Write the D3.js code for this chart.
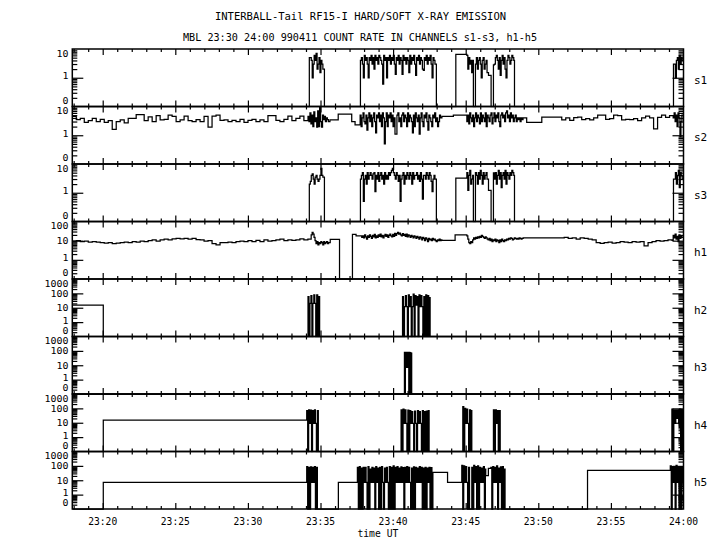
<!DOCTYPE html>
<html><head><meta charset="utf-8">
<script src="https://cdn.jsdelivr.net/npm/d3@7"></script>
<style>
body{margin:0;background:#fff}
svg{display:block;background:#fff}
text{font-family:"DejaVu Sans Mono",monospace;fill:#000;font-size:11px}
</style></head><body>
<svg id="c" width="720" height="550"></svg>
<script>
// ---------- data (time in minutes after 23:00 UT) ----------
const titleLine1 = "INTERBALL-Tail RF15-I HARD/SOFT X-RAY EMISSION";
const titleLine2 = "MBL 23:30 24:00 990411  COUNT RATE IN CHANNELS s1-s3, h1-h5";
const channels = ["s1","s2","s3","h1","h2","h3","h4","h5"];
const channelMax = [10,10,10,100,1000,1000,1000,1000];
const xDomain = [17.906, 60];
const xMajorTicks = [20,25,30,35,40,45,50,55,60];
const xTickLabels = ["23:20","23:25","23:30","23:35","23:40","23:45","23:50","23:55","24:00"];
const xLabel = "time UT";

// runs: [start minute, sample step (s), values]
const s1Runs = [
 [17.906,0,[0]],
 [34.23,4,[5,5,4,1,3,6,4,7,2,3,5,1.5,4,3,2]],
 [35.27,0,[0]],
 [37.75,4,[4,5,3,1,6,4,5,3,1,5, 4,6,3,5,2,6,4,5,3,6, 5,4,3,0.6,6,4,5,1,5,4, 6,3,5,4,6,3,1.3,5,4,6, 3,5,4,1.3,6,4,5,3,5,4, 1.5,6,3,5,4,6,3,1.2,5,4, 6,3,5,4,2,1.8,5,4,6,3, 5,4,6,3,1,5,4,3]],
 [42.98,0,[0]],
 [44.32,0,[6.5]],
 [45.08,4,[6,2,5,3,4,1.5,4]],
 [45.53,0,[0]],
 [45.67,4,[3,5,2,4,5,3,1,4,5,2,3,4,1.5]],
 [46.57,0,[1.2]],
 [46.75,0,[0]],
 [46.91,4,[2.8,3,5,6,4,2,5,1.2,4,6,3,5,2,1,4,6,5,3,4,6,5,4]],
 [48.36,0,[0]],
 [59.31,4,[3,3,1,4,5,2,6,3,5,4]]
];
const s2Runs = [
 [17.906,16.5,[4.5,3.5,3.9,2.8,3.2,3.9,3.0,3.6,2.8,3.2, 1.6,3.0,3.4,2.7,3.9,3.9,5.2,5.2,3.2,4.4, 3.0,4.8,3.4,3.6,5.0,4.5,3.0,3.4,4.6,3.2, 3.0,3.5,3.0,4.5,1.9,4.6,5.0,3.3,3.4,3.0, 3.3,3.0,3.6,2.8,3.3,3.6,3.0,3.4,3.0,4.8, 4.8,3.3,3.0,3.6,4.6,3.2,3.9,4.6,3.2]],
 [34.14,4,[4.5,3,6,2.5,5,2,6.5,3,4,1.9,7,2,10,3,1.9,5,3.5,4.5,3,4,3.5,3]],
 [35.65,0,[3.4]],
 [36.22,0,[5.4]],
 [37.15,0,[3.0]],
 [37.38,0,[2.3]],
 [37.73,4,[5,2,4,6,3,2.5,5,1.5,4,6, 3,5,2,4,6,3,1.2,5,4,6, 3,5,2,6,4,0.5,3,6,2,5, 4,6,3,5,2,4,1.1,1.1,5,6, 3,4,2,5,6,3,5,4,2,6, 3,5,4,3,1.2,5,2,6,4,3, 5,1.1,4,6,3,2,5,4,6,3, 1.5,5,4,3,2,5,4,6,3,4, 2,3,5,4]],
 [43.36,0,[4.5]],
 [44.15,0,[5.0]],
 [45.08,4,[3,5,2.5,6,4,3,5,2,4,6, 3,5,4,2.5,6,3,5,4,3,6, 2,5,4,3,5,6,2.5,4,6,3, 5,4,6,3,2,5,6,4,5,3, 6,7,4,5,3,6,4,5,3,4, 5,3,4,3.5,4,3,4,3.5,4]],
 [49.2,0,[2.8]],
 [50.24,16.5,[4.3,4.3,4.3,4.3,4.3,3.4,4.0,3.3,4.1,4.3, 3.5,3.8,3.4,4.0,5.0,5.0,3.6,3.8,5.0,4.8, 3.4,3.6,3.5,3.8,3.2,4.0,4.6,4.0,1.65,4.2, 5.0,4.2,4.8]],
 [59.29,4,[4,6,3,5,2,6,4,0.9,3,5]]
];
const s3Runs = [
 [17.906,0,[0]],
 [34.23,4,[2,2.5,4,4.5,3,2,3.5,4,3,2.5,3,4,7,4,3.5]],
 [35.27,0,[0]],
 [37.75,4,[3,4,5,0.5,3,4,2,5,3,4, 5,4,3,4.5,5,1.1,4,3,5,2.5, 4,5,3,4,2,5,3,4,3,5, 4,5,6,7,5,4,3,5,4,2.5, 4,0.5,3,4,5,2,4,3,5,4, 3,5,4,2,5,3,4,4,5,3, 4,2.5,5,3,0.6,4,4,3,5,4, 3,5,4,2.5,1.1,3,4,3]],
 [42.98,0,[0]],
 [44.32,0,[3.2]],
 [45.08,4,[5,1.2,4,6,2,3,4]],
 [45.53,0,[0]],
 [45.67,4,[5,4,2,5,3,6,4,2,5,3,4,5,3]],
 [46.57,0,[1.2]],
 [46.75,0,[0]],
 [46.91,4,[4.9,3,5,2,4,6,3,5,1.5,4,5,3,6,2,5,4,3,5,4,6,5,4]],
 [48.36,0,[0]],
 [59.31,4,[3,3,5,2,4,6,1.5,5,4,3]]
];
const h1Runs = [
 [17.906,16.5,[9.5,10,9,9.5,8.5,9,8.5,8,7.5,8, 7,7.5,8,8.5,8,9,8.5,9.5,9,10, 11,9.5,11,12,11,12.5,13,12.5,13,12, 13,11.5,11,9.5,10,7,6,8,8,8.5, 8,9,9.5,9,10,9,10.5,9,11,9.5, 10,11,12,10,11,10.5,11,12.5,11,12]],
 [34.29,4,[12,20,27,22,15,10,7,9,6,8,7,9,8,6,9,7,8,9,7,8]],
 [35.67,0,[11.7]],
 [36.31,0,[0]],
 [37.2,0,[21]],
 [37.45,0,[18]],
 [37.84,4,[15,18,14,20,16,12,18,15,20,17, 13,19,16,21,14,18,15,20,17,22, 16,19,14,18,21,17,20,15,19,22, 18,16,21,17,24,19,23,27,22,25, 20,18,23,19,21,17,22,16,20,18, 15,19,17,14,18,16,13,17,15,12, 16,14,11,15,13,10,14,12,9,13, 11,12,10,13,11,12,10,9,11,10, 12,10,11]],
 [43.36,0,[10.5]],
 [44.27,0,[20]],
 [45.08,4,[18,12,8,7,9,8,11,14,12,15, 13,16,14,17,15,19,17,15,13,16, 14,12,11,13,10,12,9,11,10,12, 9,11,10,8,11,9,12,10,9,11, 10,12,11,13,12,14,13,11,12,14, 13,12,13,12,14,13,12,13]],
 [48.96,0,[14]],
 [51.51,16.5,[14,15,13,14,12,14,13,12,11,8, 7.2,8,8.5,7.5,8,9,8.5,8,9,8.5, 9,5.3,8,9,10,9.5,10,11,10.5]],
 [59.29,4,[19,14,22,12,17,9,20,13,18,15]]
];
const h2Runs = [
 [17.906,0,[15]],
 [20.04,0,[0]],
 [34.14,4,[60,0,20,70,0,20,80,20,0,80,0,60,0]],
 [35.02,0,[0]],
 [40.65,4,[60,0,12,70,12,0,80,12,60,0,12,90,0,70,15,60,0,80,12,70,12,0,60,0,80,0,70,0,50]],
 [42.55,0,[0]]
];
const h3Runs = [
 [17.906,0,[0]],
 [40.78,2,[80,0,80,7,80,7,80,7,80,0,80,0,75,0,70,0]],
 [41.29,0,[0]]
];
const h4Runs = [
 [17.906,0,[0]],
 [20.04,0,[15.5]],
 [34.05,4,[70,0,80,9,75,0,70,9,80,9,0,70,0]],
 [34.85,0,[0]],
 [40.55,4,[80,0,90,9,80,9,0,75,0,70,9,60,9,0,65,9,0,70,9,60,9,0,70,0,60,0,65,0,70,0]],
 [42.48,0,[0]],
 [44.8,4,[130,0,100,9,90,9,0,80,0,70,0]],
 [45.42,0,[0]],
 [46.91,4,[80,0,80,9,70,0,70,0]],
 [47.42,0,[0]],
 [59.2,4,[90,0,80,9,80,20,80,9,90,0,80,0,90,0]]
];
const h5Runs = [
 [17.906,0,[0]],
 [20.04,0,[7.2]],
 [34.05,4,[90,0,80,0,85,7,80,7,90,0,80,0]],
 [34.85,0,[0]],
 [36.23,0,[7.2]],
 [37.54,4,[80,0,90,0,70,0,80, 7,80,7, 0,90,0, 60,7,80,7, 70,0, 90,7,70, 0,80,0,90, 7, 0,70, 7,80,7, 0,90,0,80,0,100,0, 80,7,90,7,70,7,85,7,75, 0,80, 7,90,7,80,7, 0,70,0,85,0, 80,7,70,7,90,7,80, 0,70,0,80,0, 70,7,80, 0,75,0]],
 [42.74,0,[36]],
 [43.75,0,[7.2]],
 [44.73,4,[110,0,100,7,90,7,0,80,0]],
 [45.31,0,[0]],
 [45.42,4,[80,0,110,7,90,0,100,0,80,7,70,7,90,0,60]],
 [46.38,0,[21]],
 [46.56,0,[68]],
 [46.73,4,[80,0,90,7,80,7,100,0,70,7,85,0,90,0,60]],
 [47.71,0,[0]],
 [53.39,0,[49]],
 [59.09,4,[100,0,90,7,80,0,110,7,90,0,80,0,90,7,80,0]]
];
const channelRuns = [s1Runs,s2Runs,s3Runs,h1Runs,h2Runs,h3Runs,h4Runs,h5Runs];

// ---------- drawing ----------
const svg = d3.select("#c");
const plotLeft = 72.3, plotRight = 683.5, plotTop = 49, panelH = 57.5;
const x = d3.scaleLinear().domain(xDomain).range([plotLeft, plotRight]);

function buildPoints(runs){
  const pts=[];
  runs.forEach((r,k)=>{
    const end = k+1<runs.length ? runs[k+1][0] : xDomain[1];
    r[2].forEach((v,i)=>{ const t=r[0]+i*r[1]/60; if(t<end) pts.push([t,v]); });
  });
  pts.push([xDomain[1], pts[pts.length-1][1]]);
  return pts;
}
function fitText(sel, n, adv){ sel.attr("textLength", n*adv).attr("lengthAdjust","spacingAndGlyphs"); }

const minuteTicks = d3.range(18,60).filter(m=>m%5!==0);
const xMajorInner = xMajorTicks.filter(m=>m<60);

channels.forEach((name,i)=>{
  const t = plotTop + i*panelH, b = t + panelH;
  const maxV = channelMax[i];
  const y = d3.scaleLog().domain([0.1,maxV]).range([b,t]).clamp(true);
  const g = svg.append("g");

  g.append("clipPath").attr("id","cp"+i).append("rect")
    .attr("x",plotLeft).attr("y",t-1).attr("width",plotRight-plotLeft).attr("height",panelH+2);

  const line = d3.line().x(d=>x(d[0])).y(d=>y(Math.max(d[1],0.1))).curve(d3.curveStepAfter);
  g.append("path").datum(buildPoints(channelRuns[i]))
    .attr("d",line).attr("fill","none").attr("stroke","#000").attr("stroke-width",1.25)
    .attr("clip-path","url(#cp"+i+")");

  // frame
  g.append("rect").attr("x",plotLeft).attr("y",t).attr("width",plotRight-plotLeft).attr("height",panelH)
    .attr("fill","none").attr("stroke","#000").attr("stroke-width",1.5);

  const clean = s=>{ s.select(".domain").remove(); s.selectAll("line").attr("stroke-width",1.2); s.selectAll("text").remove(); };
  // x ticks top & bottom (inward)
  g.append("g").attr("transform",`translate(0,${t})`).call(d3.axisTop(x).tickValues(minuteTicks).tickSize(-3).tickSizeOuter(0)).call(clean);
  g.append("g").attr("transform",`translate(0,${t})`).call(d3.axisTop(x).tickValues(xMajorInner).tickSize(-6).tickSizeOuter(0)).call(clean);
  g.append("g").attr("transform",`translate(0,${b})`).call(d3.axisBottom(x).tickValues(minuteTicks).tickSize(-3).tickSizeOuter(0)).call(clean);
  g.append("g").attr("transform",`translate(0,${b})`).call(d3.axisBottom(x).tickValues(xMajorInner).tickSize(-6).tickSizeOuter(0)).call(clean);

  // y ticks (log) left & right, inward
  const decades = []; for(let p=0.1;p<maxV*1.001;p*=10) decades.push(+p.toPrecision(3));
  const minor = [];
  decades.slice(0,-1).forEach(d=>{ for(let k=2;k<=9;k++) minor.push(+(d*k).toPrecision(3)); });
  const major = decades.slice(1,-1);
  g.append("g").attr("transform",`translate(${plotLeft},0)`).call(d3.axisLeft(y).tickValues(minor).tickSize(-5).tickSizeOuter(0)).call(clean);
  g.append("g").attr("transform",`translate(${plotLeft},0)`).call(d3.axisLeft(y).tickValues(major).tickSize(-11).tickSizeOuter(0)).call(clean);
  g.append("g").attr("transform",`translate(${plotRight},0)`).call(d3.axisRight(y).tickValues(minor).tickSize(-5).tickSizeOuter(0)).call(clean);
  g.append("g").attr("transform",`translate(${plotRight},0)`).call(d3.axisRight(y).tickValues(major).tickSize(-11).tickSizeOuter(0)).call(clean);

  // y labels (packed tightly like the reference)
  const labs = decades.slice(1).map(v=>({v, s:String(v),
    yy: v===maxV ? t+4.45 : (v===1 ? y(v)-1.5 : y(v)+0.4)}));
  labs.push({v:0, s:"0", yy:b-5.6});
  labs.forEach(l=>{
    const tx = g.append("text").attr("x",68.5).attr("y",l.yy).attr("dy","0.36em").attr("text-anchor","end")
      .style("font-size", "8.6px").text(l.s);
    fitText(tx, l.s.length, 6);
  });
  // channel name
  g.append("text").attr("x",694).attr("y",(t+b)/2+2).attr("dy","0.36em").text(name);
});

// bottom time labels
const bottom = plotTop + 8*panelH;
xMajorTicks.forEach((m,k)=>{
  const tx = svg.append("text").attr("x",x(m)).attr("y",bottom+15.5).attr("text-anchor","middle").text(xTickLabels[k]);
  fitText(tx, 5, 5.8);
});
fitText(svg.append("text").attr("x",(plotLeft+plotRight)/2).attr("y",bottom+27.5).attr("text-anchor","middle").text(xLabel), 7, 5.85);

// titles
fitText(svg.append("text").attr("x",360.5).attr("y",19.5).attr("text-anchor","middle").text(titleLine1), titleLine1.length, 6.33);
fitText(svg.append("text").attr("x",360).attr("y",40.5).attr("text-anchor","middle").text(titleLine2), titleLine2.length, 6.0);
</script>
</body></html>
